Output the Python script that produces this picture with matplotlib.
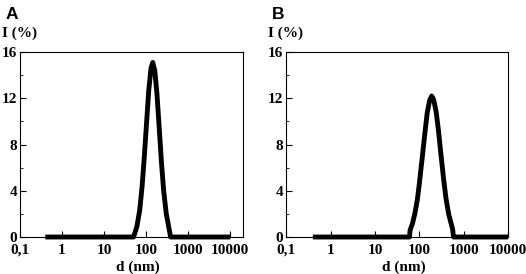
import matplotlib
matplotlib.use('Agg')
import matplotlib.pyplot as plt
from matplotlib.ticker import FixedLocator, FixedFormatter, NullFormatter

# size distribution, panel A
d_a = [0.4, 1, 10, 30, 50, 60, 70, 80, 90, 100, 115, 130, 143, 160, 180, 200, 230, 260, 300, 350, 380, 1000, 4000, 10000]
i_a = [0, 0, 0, 0, 0, 0.9, 2.3, 4.4, 6.9, 9.4, 12.7, 14.6, 15.1, 14.4, 12.4, 9.9, 6.5, 4.0, 2.0, 0.7, 0, 0, 0, 0]

# size distribution, panel B
d_b = [0.4, 1, 10, 40, 60, 62, 70, 80, 90, 100, 115, 130, 150, 170, 190, 210, 240, 270, 300, 350, 400, 460, 560, 590, 1000, 10000]
i_b = [0, 0, 0, 0, 0, 0.6, 1.15, 2.1, 3.2, 4.6, 6.7, 8.6, 10.7, 11.8, 12.2, 11.9, 10.8, 9.2, 7.5, 5.1, 3.3, 1.95, 0.7, 0, 0, 0]

xticks = [0.1, 1, 10, 100, 1000, 10000]
xlabels = ['0,1', '1', '10', '100', '1000', '10000']
yticks = [0, 4, 8, 12, 16]

serif = 'Liberation Serif'

fig = plt.figure(figsize=(5.26, 2.74), dpi=100)
ax_a = fig.add_axes([0.038, 0.135, 0.424, 0.675])
ax_b = fig.add_axes([0.544, 0.135, 0.422, 0.675])

panels = [(ax_a, d_a, i_a, 'A', (0.1, 20000)), (ax_b, d_b, i_b, 'B', (0.1, 10000))]

for ax, d, inten, letter, xl in panels:
    ax.plot(d, inten, color='black', lw=3.5, solid_joinstyle='round', solid_capstyle='butt', clip_on=False)
    ax.set_xscale('log')
    ax.set_xlim(*xl)
    ax.set_ylim(0, 16)
    ax.xaxis.set_major_locator(FixedLocator(xticks))
    ax.xaxis.set_major_formatter(FixedFormatter(xlabels))
    ax.xaxis.set_minor_formatter(NullFormatter())
    ax.set_yticks(yticks)
    ax.set_yticks([2, 6, 10, 14], minor=True)
    ax.tick_params(which='major', direction='in', length=4, width=0.8, labelsize=11)
    ax.tick_params(axis='x', which='major', pad=5)
    ax.tick_params(axis='y', which='major', pad=2)
    ax.tick_params(which='minor', direction='in', length=2, width=0.6)
    for lab in ax.get_xticklabels() + ax.get_yticklabels():
        lab.set_fontfamily(serif)
        lab.set_fontweight('bold')
    for sp in ax.spines.values():
        sp.set_linewidth(0.8)
    ax.set_xlabel('d (nm)', fontfamily=serif, fontweight='bold', fontsize=11, va='center')
    ax.xaxis.set_label_coords(0.53, -0.165)
    pos = ax.get_position()
    fig.text(pos.x0 - 0.034, 0.865, 'I (%)', fontfamily=serif, fontweight='bold', fontsize=11, ha='left', va='baseline')
    fig.text(pos.x0 - 0.028, 0.93, letter, fontfamily='Liberation Sans', fontweight='bold', fontsize=12.5, ha='left', va='baseline')

fig.savefig('out.png', dpi=100)
